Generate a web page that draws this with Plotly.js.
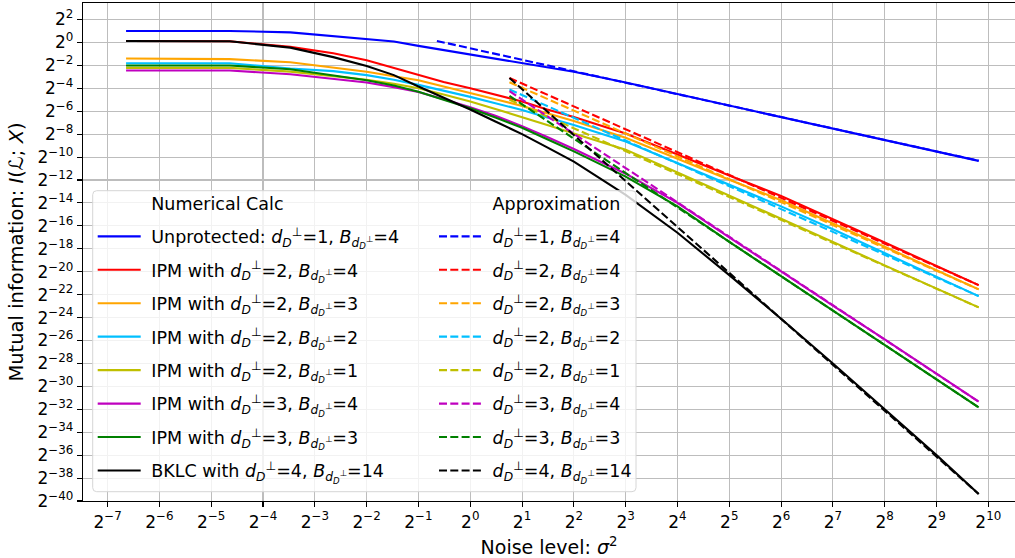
<!DOCTYPE html>
<html><head><meta charset="utf-8">
<script src="https://cdn.plot.ly/plotly-3.0.1.min.js"></script>
<style>html,body{margin:0;padding:0;overflow:hidden;background:#fff}</style>
</head><body><div id="chart" style="width:1015px;height:558px"></div>
<script>
// Noise level sigma^2 at the sampled points
const sigma2 = [0.01,0.04,0.09,0.16,0.25,0.36,0.5,0.7,1,1.4,2,2.8,4,8,16,32,64,128,256,512,900];
// log2 of mutual information (numerical calculation)
const unprotected = [1.00,1.00,0.88,0.55,0.32,0.08,-0.30,-0.66,-1.04,-1.42,-1.80,-2.18,-2.56,-3.50,-4.50,-5.50,-6.50,-7.50,-8.50,-9.50,-10.33];
const ipm2b4 = [0.13,0.10,-0.39,-0.95,-1.55,-2.20,-2.85,-3.45,-4.00,-4.55,-5.15,-5.85,-6.50,-7.95,-9.80,-11.60,-13.40,-15.40,-17.45,-19.50,-21.17];
const ipm2b3 = [-1.40,-1.46,-1.73,-2.20,-2.55,-2.95,-3.30,-3.85,-4.40,-4.95,-5.55,-6.20,-6.85,-8.32,-10.17,-11.97,-13.77,-15.77,-17.82,-19.87,-21.54];
const ipm2b2 = [-1.81,-1.81,-2.28,-2.50,-2.85,-3.25,-3.70,-4.20,-4.75,-5.30,-5.90,-6.55,-7.20,-8.65,-10.55,-12.40,-14.30,-16.30,-18.35,-20.45,-22.13];
const ipm2b1 = [-2.22,-2.22,-2.55,-2.95,-3.25,-3.60,-4.00,-4.55,-5.15,-5.80,-6.50,-7.20,-7.95,-9.35,-11.35,-13.35,-15.35,-17.40,-19.45,-21.50,-23.11];
const ipm3b4 = [-2.45,-2.45,-2.77,-3.15,-3.50,-3.90,-4.32,-4.95,-5.65,-6.40,-7.30,-8.25,-9.30,-11.45,-14.00,-17.00,-20.00,-22.95,-25.90,-28.90,-31.34];
const ipm3b3 = [-2.01,-2.01,-2.34,-2.85,-3.30,-3.75,-4.30,-5.00,-5.75,-6.55,-7.45,-8.45,-9.50,-11.70,-14.30,-17.40,-20.40,-23.40,-26.35,-29.40,-31.83];
const bklc4b14 = [0.13,0.10,-0.45,-1.28,-2.05,-2.85,-3.85,-4.80,-5.85,-6.90,-8.00,-9.15,-10.40,-13.30,-16.60,-20.30,-24.10,-28.00,-32.00,-36.00,-39.39];

// Approximations (straight lines in log-log): start / end points
const approxXd1 = [0.64, 900];
const approxX = [1.69, 900];
const approxD1B4 = [0.13, -10.32];
const approxD2B4 = [-3.10, -21.17];
const approxD2B3 = [-3.47, -21.54];
const approxD2B2 = [-4.10, -22.13];
const approxD2B1 = [-5.00, -23.11];
const approxD3B4 = [-4.25, -31.34];
const approxD3B3 = [-4.67, -31.83];
const approxD4B14 = [-3.10, -39.39];

const prefixes = ['Unprotected: ','IPM with ','IPM with ','IPM with ','IPM with ','IPM with ','IPM with ','BKLC with '];
const dPerp = [1,2,2,2,2,3,3,4];
const bVals = [4,4,3,2,1,4,3,14];
const colors = ['#0000ff','#ff0000','#ffa500','#00bfff','#bfbf00','#bf00bf','#008000','#000000'];
const xTickExps = [-7,-6,-5,-4,-3,-2,-1,0,1,2,3,4,5,6,7,8,9,10];
const yTickExps = [2,0,-2,-4,-6,-8,-10,-12,-14,-16,-18,-20,-22,-24,-26,-28,-30,-32,-34,-36,-38,-40];

const solid = [unprotected, ipm2b4, ipm2b3, ipm2b2, ipm2b1, ipm3b4, ipm3b3, bklc4b14];
const approx = [approxD1B4, approxD2B4, approxD2B3, approxD2B2, approxD2B1, approxD3B4, approxD3B3, approxD4B14];

const pw = v => Math.pow(2, v);
const expLabel = e => '2<sup>' + (e < 0 ? '\u2212' + (-e) : e) + '</sup>';
const dSym = '<i>d</i><sub><i>D</i></sub><sup>\u22a5</sup>';
const bSym = '<i>B</i><sub><i>d</i><sub><i>D</i></sub><sup>\u22a5</sup></sub>';
const sp = '\u00a0';

const traces = [];
traces.push({x:[null], y:[null], mode:'lines', name: sp + 'Numerical Calc', line:{color:'rgba(0,0,0,0)'}, legend:'legend', legendgroup:'h1', hoverinfo:'skip'});
solid.forEach((s, i) => {
  traces.push({x: sigma2, y: s.map(pw), mode:'lines', line:{color:colors[i], width:2.1},
    name: sp + prefixes[i] + dSym + '=' + dPerp[i] + ', ' + bSym + '=' + bVals[i], legend:'legend', legendgroup:'s'+i});
});
traces.push({x:[null], y:[null], mode:'lines', name: sp + 'Approximation', line:{color:'rgba(0,0,0,0)'}, legend:'legend2', legendgroup:'h2', hoverinfo:'skip'});
approx.forEach((a, i) => {
  traces.push({x: i === 0 ? approxXd1 : approxX, y: a.map(pw), mode:'lines', line:{color:colors[i], width:2.1, dash:'8px,3.3px'},
    name: sp + dSym + '=' + dPerp[i] + ', ' + bSym + '=' + bVals[i], legend:'legend2', legendgroup:'a'+i});
});

const L = 83, R = 0, T = 3, B = 57, W = 1015, H = 558;
const pw_ = W - L - R, ph = H - T - B;
const px2x = p => (p - L) / pw_;
const px2y = p => (H - B - p) / ph;
const bx0 = px2x(92.7), bx1 = px2x(636), by0 = px2y(491.7), by1 = px2y(190.7);
const rx = 4 / pw_, ry = 4 / ph;
const boxPath = `M${bx0+rx},${by1} L${bx1-rx},${by1} Q${bx1},${by1} ${bx1},${by1-ry} L${bx1},${by0+ry} Q${bx1},${by0} ${bx1-rx},${by0} L${bx0+rx},${by0} Q${bx0},${by0} ${bx0},${by0+ry} L${bx0},${by1-ry} Q${bx0},${by1} ${bx0+rx},${by1} Z`;

const font = {family:'DejaVu Sans, sans-serif', color:'#000'};
const legendCommon = {bgcolor:'rgba(0,0,0,0)', borderwidth:0, font:{...font, size:17.5}, traceorder:'grouped', tracegroupgap:7.7, itemwidth:43, xanchor:'left', yanchor:'top', itemclick:false, itemdoubleclick:false};

const layout = {
  width: W, height: H,
  margin: {l:L, r:R, t:T, b:B, pad:0},
  paper_bgcolor:'#fff', plot_bgcolor:'#fff',
  font: font,
  showlegend: true,
  xaxis: {type:'log', range:[-7.475*Math.LOG10E*Math.LN2, 10.515*Math.LOG10E*Math.LN2],
    tickvals: xTickExps.map(pw), ticktext: xTickExps.map(expLabel), tickfont:{...font, size:17},
    ticks:'outside', ticklen:5, tickwidth:1.1, tickcolor:'#000',
    showline:true, linecolor:'#000', linewidth:1.2, mirror:true,
    showgrid:true, gridcolor:'#bdbdbd', gridwidth:1.1, zeroline:false,
    title:{text:'Noise level: <i>\u03c3</i><sup>2</sup>', font:{...font, size:19}, standoff:11}},
  yaxis: {type:'log', range:[-40*Math.LOG10E*Math.LN2, 3.44*Math.LOG10E*Math.LN2],
    tickvals: yTickExps.map(pw), ticktext: yTickExps.map(expLabel), tickfont:{...font, size:17},
    ticks:'outside', ticklen:5, tickwidth:1.1, tickcolor:'#000',
    showline:true, linecolor:'#000', linewidth:1.2, mirror:false,
    showgrid:true, gridcolor:'#bdbdbd', gridwidth:1.1, zeroline:false,
    title:{text:'Mutual information: <i>I</i>(\u2112; <i>X</i>)', font:{...font, size:19.5}, standoff:8}},
  legend: {...legendCommon, x: px2x(92.7), y: px2y(185)},
  legend2: {...legendCommon, x: px2x(434), y: px2y(185)},
  shapes: [{type:'path', path: boxPath, xref:'paper', yref:'paper', layer:'above',
    fillcolor:'rgba(255,255,255,0.8)', line:{color:'#d6d6d6', width:1}}]
};

Plotly.newPlot('chart', traces, layout, {displayModeBar:false, staticPlot:true});
</script>
</body></html>
